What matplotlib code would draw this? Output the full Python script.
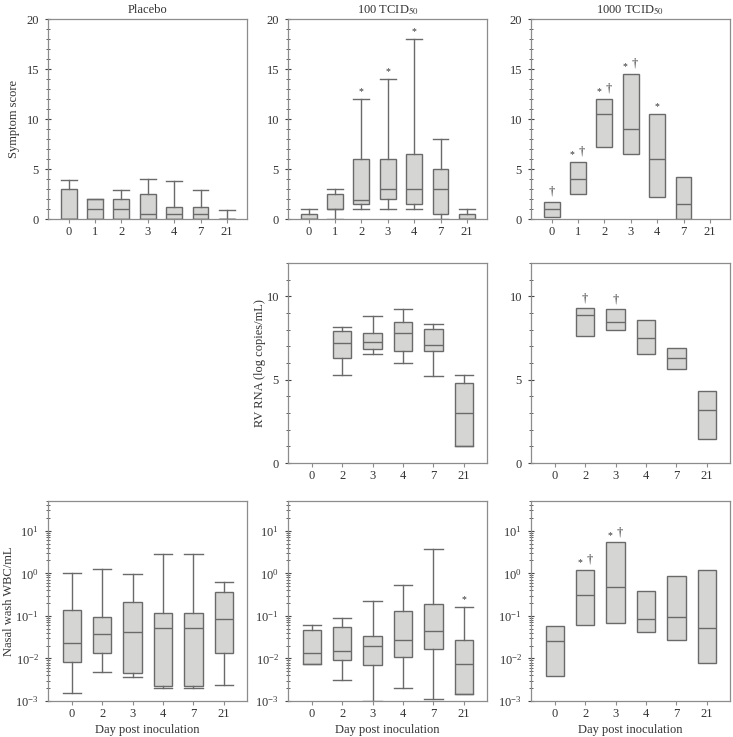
import numpy as np
import matplotlib
matplotlib.use("Agg")
import matplotlib.pyplot as plt
from matplotlib.ticker import MultipleLocator, LogLocator, NullFormatter

plt.rcParams['font.family'] = ['Liberation Serif', 'DejaVu Serif']
plt.rcParams['mathtext.fontset'] = 'stix'
plt.rcParams['font.size'] = 8

# ---- data ----
days_sym = ["0", "1", "2", "3", "4", "7", "21"]
days_six = ["0", "2", "3", "4", "7", "21"]

# symptom score: whislo, q1, med, q3, whishi
plac_sym_lo = [0, 0, 0, 0, 0, 0, 0]
plac_sym_q1 = [0, 0, 0, 0, 0, 0, 0]
plac_sym_med = [0, 1, 1, 0.5, 0.5, 0.5, 0]
plac_sym_q3 = [3.0, 2.0, 2.0, 2.5, 1.2, 1.2, 0]
plac_sym_hi = [3.87, 2.0, 2.87, 4.0, 3.77, 2.87, 0.87]

low_sym_lo = [0, 0, 1.0, 1.0, 1.0, 0, 0]
low_sym_q1 = [0, 1.0, 1.5, 2.0, 1.5, 0.5, 0]
low_sym_med = [0, 1.0, 1.95, 3.0, 3.0, 3.0, 0]
low_sym_q3 = [0.5, 2.55, 6.0, 6.0, 6.55, 5.05, 0.5]
low_sym_hi = [1.0, 3.05, 12.0, 14.0, 18.0, 8.0, 1.0]

high_sym_q1 = [0.2, 2.5, 7.2, 6.5, 2.2, 0, None]
high_sym_med = [1.0, 4.0, 10.5, 9.0, 6.0, 1.5, None]
high_sym_q3 = [1.7, 5.7, 12.0, 14.5, 10.5, 4.2, None]

# RV RNA (log copies/mL), day 0 not shown
low_rna_lo = [None, 5.3, 6.56, 6.02, 5.24, 1.0]
low_rna_q1 = [None, 6.3, 6.85, 6.75, 6.7, 1.0]
low_rna_med = [None, 7.22, 7.28, 7.82, 7.08, 3.02]
low_rna_q3 = [None, 7.95, 7.8, 8.45, 8.04, 4.8]
low_rna_hi = [None, 8.18, 8.84, 9.26, 8.36, 5.28]

high_rna_q1 = [None, 7.6, 7.96, 6.52, 5.62, 1.44]
high_rna_med = [None, 8.88, 8.44, 7.48, 6.32, 3.16]
high_rna_q3 = [None, 9.28, 9.22, 8.56, 6.92, 4.3]

# nasal wash WBC/mL
plac_wbc_lo = [0.00158, 0.00489, 0.00365, 0.0020, 0.0020, 0.00236]
plac_wbc_q1 = [0.0083, 0.0136, 0.00454, 0.00227, 0.00227, 0.0136]
plac_wbc_med = [0.0234, 0.037, 0.0428, 0.0533, 0.0533, 0.0826]
plac_wbc_q3 = [0.135, 0.092, 0.217, 0.119, 0.119, 0.368]
plac_wbc_hi = [0.99, 1.27, 0.97, 2.84, 2.84, 0.614]

low_wbc_lo = [0.0073, 0.0031, 0.001, 0.00202, 0.0011, 0.00149]
low_wbc_q1 = [0.0073, 0.0091, 0.0069, 0.0107, 0.0165, 0.00149]
low_wbc_med = [0.0133, 0.0148, 0.0195, 0.0269, 0.0438, 0.0073]
low_wbc_q3 = [0.0455, 0.0546, 0.0335, 0.13, 0.187, 0.0264]
low_wbc_hi = [0.0608, 0.089, 0.224, 0.524, 3.70, 0.161]

high_wbc_q1 = [0.00384, 0.0618, 0.0689, 0.0414, 0.0273, 0.0079]
high_wbc_med = [0.0258, 0.317, 0.465, 0.0857, 0.0955, 0.0525]
high_wbc_q3 = [0.0585, 1.19, 5.3, 0.394, 0.845, 1.17]

# significance marks: (category index, marks)
low_sym_marks = [(2, "*"), (3, "*"), (4, "*")]
high_sym_marks = [(0, "†"), (1, "*†"), (2, "*†"), (3, "*†"), (4, "*")]
high_rna_marks = [(1, "†"), (2, "†")]
low_wbc_marks = [(5, "*")]
high_wbc_marks = [(1, "*†"), (2, "*†")]

BOX_FILL = "#d5d5d3"
EDGE = "#6a6a6a"
SPINE = "#8c8c8c"
TEXT = "#333333"


def make_stats(lo, q1, med, q3, hi):
    stats, pos = [], []
    for i in range(len(q1)):
        if q1[i] is None:
            continue
        stats.append(dict(whislo=lo[i], q1=q1[i], med=med[i], q3=q3[i],
                          whishi=hi[i], fliers=[]))
        pos.append(i)
    return stats, pos


def draw_box(ax, lo, q1, med, q3, hi, labels, caps=True):
    stats, pos = make_stats(lo, q1, med, q3, hi)
    ax.bxp(stats, positions=pos, widths=0.6, capwidths=0.6, showcaps=caps,
           patch_artist=True, manage_ticks=False,
           boxprops=dict(facecolor=BOX_FILL, edgecolor=EDGE, linewidth=1.0),
           medianprops=dict(color=EDGE, linewidth=1.0),
           whiskerprops=dict(color=EDGE, linewidth=1.0),
           capprops=dict(color=EDGE, linewidth=1.0))
    n = len(labels)
    ax.set_xlim(-0.78, n - 1 + 0.76)
    ax.set_xticks(range(n))
    ax.set_xticklabels(labels)
    for s in ax.spines.values():
        s.set_color(SPINE)
        s.set_linewidth(0.9)
    ax.tick_params(axis='x', direction='out', length=3, color=SPINE,
                   labelcolor=TEXT, labelsize=9, pad=2)
    ax.tick_params(axis='y', which='both', direction='inout', color="#444444",
                   labelcolor=TEXT, labelsize=9, pad=4)
    ax.tick_params(axis='y', which='major', length=5)
    ax.tick_params(axis='y', which='minor', length=3)


def add_marks(ax, marks, tops):
    for i, m in marks:
        if m == "*†":
            ax.annotate("*", (i, tops[i]), xytext=(-4, 2), textcoords='offset points',
                        ha='center', va='bottom', fontsize=7, color=TEXT)
            ax.annotate("†", (i, tops[i]), xytext=(3, 3), textcoords='offset points',
                        ha='center', va='bottom', fontsize=9, color=TEXT)
        elif m == "*":
            ax.annotate("*", (i, tops[i]), xytext=(0, 2), textcoords='offset points',
                        ha='center', va='bottom', fontsize=7, color=TEXT)
        else:
            ax.annotate("†", (i, tops[i]), xytext=(0, 3), textcoords='offset points',
                        ha='center', va='bottom', fontsize=9, color=TEXT)


def sym_axis(ax):
    ax.set_ylim(0, 20)
    ax.yaxis.set_major_locator(MultipleLocator(5))
    ax.yaxis.set_minor_locator(MultipleLocator(1))


def rna_axis(ax):
    ax.set_ylim(0, 12)
    ax.yaxis.set_major_locator(MultipleLocator(5))
    ax.yaxis.set_minor_locator(MultipleLocator(1))


def wbc_axis(ax):
    ax.set_yscale('log')
    ax.set_ylim(1e-3, 50)
    ax.yaxis.set_major_locator(LogLocator(base=10, numticks=10))
    ax.yaxis.set_minor_locator(LogLocator(base=10, subs=np.arange(2, 10), numticks=20))
    ax.yaxis.set_minor_formatter(NullFormatter())


fig = plt.figure(figsize=(7.33, 7.37), dpi=100)
W, H = 733, 737
cols = [48, 288, 531]
rows = [19, 263, 501]
aw, ah = 199, 200


def panel(c, r):
    return fig.add_axes([cols[c] / W, 1 - (rows[r] + ah) / H, aw / W, ah / H])


# row 1: symptom score
ax = panel(0, 0)
draw_box(ax, plac_sym_lo, plac_sym_q1, plac_sym_med, plac_sym_q3, plac_sym_hi, days_sym)
sym_axis(ax)
ax.set_title("Placebo", fontsize=9, color=TEXT, pad=4)
ax.set_ylabel("Symptom score", fontsize=9, color=TEXT)
ax.yaxis.set_label_coords(-0.14, 0.5)

ax = panel(1, 0)
draw_box(ax, low_sym_lo, low_sym_q1, low_sym_med, low_sym_q3, low_sym_hi, days_sym)
sym_axis(ax)
ax.set_title("100 TCID$_{50}$", fontsize=9, color=TEXT, pad=4)
add_marks(ax, low_sym_marks, low_sym_hi)

ax = panel(2, 0)
draw_box(ax, high_sym_q1, high_sym_q1, high_sym_med, high_sym_q3, high_sym_q3, days_sym, caps=False)
sym_axis(ax)
ax.set_title("1000 TCID$_{50}$", fontsize=9, color=TEXT, pad=4)
add_marks(ax, high_sym_marks, high_sym_q3)

# row 2: RV RNA
ax = panel(1, 1)
draw_box(ax, low_rna_lo, low_rna_q1, low_rna_med, low_rna_q3, low_rna_hi, days_six)
rna_axis(ax)
ax.set_ylabel("RV RNA (log copies/mL)", fontsize=9, color=TEXT)
ax.yaxis.set_label_coords(-0.11, 0.5)

ax = panel(2, 1)
draw_box(ax, high_rna_q1, high_rna_q1, high_rna_med, high_rna_q3, high_rna_q3, days_six, caps=False)
rna_axis(ax)
add_marks(ax, high_rna_marks, high_rna_q3)

# row 3: nasal wash WBC
ax = panel(0, 2)
draw_box(ax, plac_wbc_lo, plac_wbc_q1, plac_wbc_med, plac_wbc_q3, plac_wbc_hi, days_six)
wbc_axis(ax)
ax.set_ylabel("Nasal wash WBC/mL", fontsize=9, color=TEXT)
ax.yaxis.set_label_coords(-0.165, 0.5)
ax.set_xlabel("Day post inoculation", fontsize=9, color=TEXT, labelpad=3)

ax = panel(1, 2)
draw_box(ax, low_wbc_lo, low_wbc_q1, low_wbc_med, low_wbc_q3, low_wbc_hi, days_six)
wbc_axis(ax)
ax.set_xlabel("Day post inoculation", fontsize=9, color=TEXT, labelpad=3)
add_marks(ax, low_wbc_marks, low_wbc_hi)

ax = panel(2, 2)
draw_box(ax, high_wbc_q1, high_wbc_q1, high_wbc_med, high_wbc_q3, high_wbc_q3, days_six, caps=False)
wbc_axis(ax)
ax.set_xlabel("Day post inoculation", fontsize=9, color=TEXT, labelpad=3)
add_marks(ax, high_wbc_marks, high_wbc_q3)

fig.savefig("out.png", dpi=100)
